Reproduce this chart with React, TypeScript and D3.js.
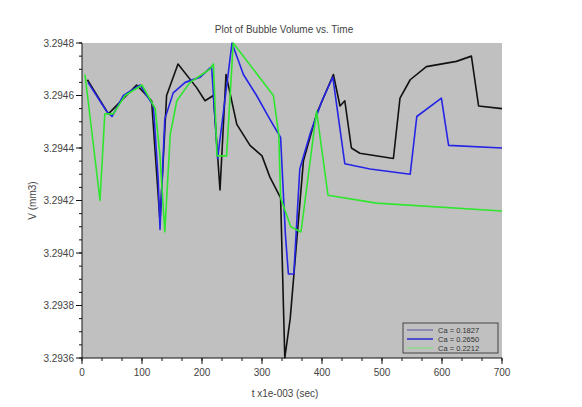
import React from 'react';
import * as d3 from 'd3';

// time in ms (x1e-003 sec), volume in mm3
const tBlack = [9, 44, 91, 116, 130, 141, 160, 191, 205, 219, 230, 240, 258, 280, 300, 313, 331, 338, 347, 369, 391, 419, 430, 438, 449, 463, 519, 530, 547, 574, 624, 649, 661, 700];
const vBlack = [3.29466, 3.29453, 3.29464, 3.29458, 3.29412, 3.2946, 3.29472, 3.29463, 3.29458, 3.2946, 3.29424, 3.29468, 3.29449, 3.29441, 3.29437, 3.29429, 3.29421, 3.2936, 3.29375, 3.29435, 3.29453, 3.29468, 3.29456, 3.29458, 3.2944, 3.29438, 3.29436, 3.29459, 3.29466, 3.29471, 3.29473, 3.29475, 3.29456, 3.29455];

const tBlue = [10, 41, 50, 69, 97, 119, 127, 130, 138, 152, 172, 197, 216, 226, 250, 269, 291, 313, 331, 339, 344, 353, 363, 381, 400, 418, 438, 480, 547, 558, 599, 611, 700];
const vBlue = [3.29465, 3.29454, 3.29452, 3.2946, 3.29464, 3.29456, 3.29428, 3.29409, 3.29451, 3.29461, 3.29465, 3.29467, 3.29471, 3.29436, 3.2948, 3.29468, 3.2946, 3.29451, 3.29444, 3.29407, 3.29392, 3.29392, 3.29432, 3.29446, 3.29458, 3.29467, 3.29434, 3.29432, 3.2943, 3.29452, 3.29459, 3.29441, 3.2944];

const tGreen = [5, 30, 38, 52, 72, 100, 122, 130, 138, 147, 158, 180, 213, 219, 225, 241, 252, 319, 328, 331, 348, 365, 391, 410, 491, 700];
const vGreen = [3.29468, 3.2942, 3.29453, 3.29453, 3.2946, 3.29464, 3.29455, 3.29437, 3.29408, 3.29445, 3.29458, 3.29465, 3.2947, 3.29472, 3.29437, 3.29437, 3.2948, 3.2946, 3.29445, 3.29421, 3.2941, 3.29408, 3.29454, 3.29422, 3.29419, 3.29416];

const series = [
  { name: 'Ca = 0.1827', t: tBlack, v: vBlack, color: '#111111', legend: '#7a78a8' },
  { name: 'Ca = 0.2650', t: tBlue, v: vBlue, color: '#2424e6', legend: '#2a2ad0' },
  { name: 'Ca = 0.2212', t: tGreen, v: vGreen, color: '#2ee62e', legend: '#8ad88a' },
];

const xMajor = [0, 100, 200, 300, 400, 500, 600, 700];
const yMajor = [3.2936, 3.2938, 3.294, 3.2942, 3.2944, 3.2946, 3.2948];

const W = 582;
const H = 407;
const left = 82;
const right = 502;
const top = 43;
const bottom = 358;
const font = '"Liberation Sans", Arial, sans-serif';
const txt = '#444';

export default function App() {
  const x = d3.scaleLinear().domain([0, 700]).range([left, right]);
  const y = d3.scaleLinear().domain([3.2936, 3.2948]).range([bottom, top]);

  const xMinor = d3.range(0, 700.001, 100 / 3);
  const yMinor = d3.range(0, 25).map(i => 3.2936 + i * 0.00005);

  const line = d3
    .line<number>()
    .x(d => d);

  return (
    <svg width={W} height={H} style={{ position: 'absolute', left: 0, top: 0, background: '#fff' }}>
      <rect x={left} y={top} width={right - left} height={bottom - top} fill="#c0c0c0" />
      {series.map(s => {
        const pts: [number, number][] = s.t.map((t, i) => [x(t), y(s.v[i])]);
        const path = d3.line()(pts) || '';
        return <path key={s.name} d={path} fill="none" stroke={s.color} strokeWidth={1.6} strokeLinejoin="round" />;
      })}

      {/* y axis */}
      <line x1={left} x2={left} y1={top} y2={bottom} stroke="#111" />
      {yMinor.map((v, i) => (
        <line key={'ym' + i} x1={left - 3} x2={left} y1={y(v)} y2={y(v)} stroke="#111" />
      ))}
      {yMajor.map(v => (
        <g key={'y' + v}>
          <line x1={left - 6} x2={left} y1={y(v)} y2={y(v)} stroke="#111" />
          <text x={left - 8} y={y(v) + 3.5} textAnchor="end" fontSize={10} fontFamily={font} fill={txt}>
            {d3.format('.4f')(v)}
          </text>
        </g>
      ))}

      {/* x axis */}
      <line x1={left} x2={right} y1={bottom} y2={bottom} stroke="#111" />
      {xMinor.map((v, i) => (
        <line key={'xm' + i} x1={x(v)} x2={x(v)} y1={bottom} y2={bottom + 3} stroke="#111" />
      ))}
      {xMajor.map(v => (
        <g key={'x' + v}>
          <line x1={x(v)} x2={x(v)} y1={bottom} y2={bottom + 6} stroke="#111" />
          <text x={x(v)} y={bottom + 18} textAnchor="middle" fontSize={10} fontFamily={font} fill={txt}>
            {v}
          </text>
        </g>
      ))}

      <text x={284} y={33} textAnchor="middle" fontSize={10} fontFamily={font} fill={txt}>
        Plot of Bubble Volume vs. Time
      </text>
      <text x={285} y={397} textAnchor="middle" fontSize={10} fontFamily={font} fill={txt}>
        t x1e-003  (sec)
      </text>
      <text transform={`translate(36,${(top + bottom) / 2}) rotate(-90)`} textAnchor="middle" fontSize={10} fontFamily={font} fill={txt}>
        V (mm3)
      </text>

      {/* legend */}
      <rect x={403} y={323} width={95} height={30} fill="#c0c0c0" stroke="#444" />
      {series.map((s, i) => (
        <g key={'lg' + i}>
          <line x1={407} x2={433} y1={330 + i * 9} y2={330 + i * 9} stroke={s.legend} strokeWidth={1.5} />
          <text x={438} y={333 + i * 9} fontSize={7.5} fontFamily={font} fill="#333">
            {s.name}
          </text>
        </g>
      ))}
    </svg>
  );
}
